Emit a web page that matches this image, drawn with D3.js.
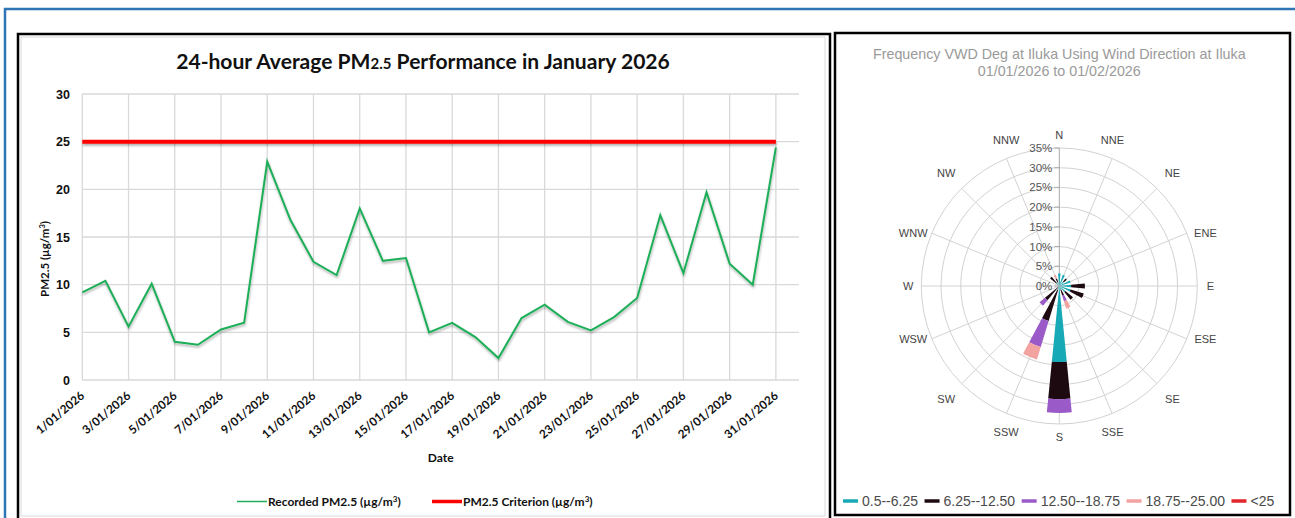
<!DOCTYPE html>
<html>
<head>
<meta charset="utf-8">
<script src="https://cdn.jsdelivr.net/npm/d3@7"></script>
<style>
  body { margin: 0; background: #fff; }
  svg { display: block; }
</style>
</head>
<body>
<div class="sh"></div>
<script>
// PM2.5 daily values, January 2026
var days = [1, 2, 3, 4, 5, 6, 7, 8, 9, 10, 11, 12, 13, 14, 15, 16,
    17, 18, 19, 20, 21, 22, 23, 24, 25, 26, 27, 28, 29, 30, 31];
var pm25 = [9.2, 10.4, 5.6, 10.1, 4.0, 3.7, 5.3, 6.0, 22.9, 16.8, 12.4, 11.0, 18.0, 12.5, 12.8, 5.0,
    6.0, 4.5, 2.3, 6.5, 7.9, 6.1, 5.2, 6.6, 8.6, 17.3, 11.2, 19.7, 12.2, 10.0, 24.4];
var criterion = 25;
var yTicks = [0, 5, 10, 15, 20, 25, 30];
var xTickDays = [1, 3, 5, 7, 9, 11, 13, 15, 17, 19, 21, 23, 25, 27, 29, 31];

// wind rose: frequency (%) per direction, per speed class
var directions = ["N", "NNE", "NE", "ENE", "E", "ESE", "SE", "SSE",
    "S", "SSW", "SW", "WSW", "W", "WNW", "NW", "NNW"];
var speedClasses = ["0.5--6.25", "6.25--12.50", "12.50--18.75", "18.75--25.00", "<25"];
var cls1 = [3.2, 3.0, 1.5, 3.0, 3.0, 3.0, 2.0, 1.0, 19.3, 1.0, 0.5, 0.3, 0.3, 0.3, 1.0, 1.0];
var cls2 = [0, 0, 1.0, 0, 3.5, 3.5, 2.5, 1.5, 9.4, 8.3, 4.2, 0, 0, 0, 2.0, 1.0];
var cls3 = [0, 0, 0, 0, 0, 0, 0, 1.5, 3.5, 6.9, 1.8, 0, 0, 0, 0, 0];
var cls4 = [0, 0, 0, 0, 0, 0, 0, 2.0, 0, 3.3, 0, 0, 0, 0, 0, 1.0];
var cls5 = [0, 0, 0, 0, 0, 0, 0, 0, 0, 0, 0, 0, 0, 0, 0, 0];
var rTicks = [0, 5, 10, 15, 20, 25, 30, 35];

var roseColors = ["#17a9b6", "#1c0a10", "#9a5ac8", "#f2a3a0", "#e3262b"];

var W = 1295, H = 518;
var svg = d3.select(".sh").append("svg")
    .attr("width", W)
    .attr("height", H);

var defs = svg.append("defs");
defs.append("filter").attr("id", "shadow")
    .attr("filterUnits", "userSpaceOnUse")
    .attr("x", 0).attr("y", 0).attr("width", W).attr("height", H)
    .append("feDropShadow")
    .attr("dx", 0.5).attr("dy", 2).attr("stdDeviation", 1.2)
    .attr("flood-color", "#000").attr("flood-opacity", 0.3);

// outer blue frame
svg.append("path")
    .attr("d", "M5,520 L5,9 L1300,9")
    .attr("fill", "none")
    .attr("stroke", "#2e75b6")
    .attr("stroke-width", 2.5);

// chart boxes
svg.append("rect").attr("x", 21).attr("y", 37).attr("width", 804).attr("height", 479)
    .attr("fill", "none").attr("stroke", "#d9d9d9").attr("stroke-width", 1);
svg.append("rect").attr("x", 18).attr("y", 34).attr("width", 812).attr("height", 500)
    .attr("fill", "none").attr("stroke", "#000").attr("stroke-width", 2.5);
svg.append("rect").attr("x", 835).attr("y", 33).attr("width", 455).attr("height", 482)
    .attr("fill", "none").attr("stroke", "#000").attr("stroke-width", 2.5);

// ---------- line chart ----------
var plot = { left: 82.3, right: 799, top: 94, bottom: 380 };
var x = d3.scaleLinear().domain([1, 32]).range([plot.left, plot.right]);
var y = d3.scaleLinear().domain([0, 30]).range([plot.bottom, plot.top]);

var lc = svg.append("g");
var font = "'Liberation Sans', Arial, sans-serif";
var font2 = "Lato, 'Open Sans', sans-serif";

lc.append("g").selectAll("line")
    .data(yTicks)
    .enter().append("line")
    .attr("x1", plot.left).attr("x2", plot.right)
    .attr("y1", function (d) { return y(d); })
    .attr("y2", function (d) { return y(d); })
    .attr("stroke", "#d9d9d9").attr("stroke-width", 1.3);

lc.append("g").selectAll("line")
    .data(xTickDays)
    .enter().append("line")
    .attr("x1", function (d) { return x(d); })
    .attr("x2", function (d) { return x(d); })
    .attr("y1", plot.top).attr("y2", plot.bottom)
    .attr("stroke", "#d9d9d9").attr("stroke-width", 1.3);

lc.append("g").selectAll("text")
    .data(yTicks)
    .enter().append("text")
    .attr("x", 70)
    .attr("y", function (d) { return y(d) + 4.5; })
    .attr("text-anchor", "end")
    .attr("font-family", font)
    .attr("font-weight", "bold")
    .attr("font-size", 12.5)
    .attr("fill", "#111")
    .text(function (d) { return d; });

lc.append("g").selectAll("text")
    .data(xTickDays)
    .enter().append("text")
    .attr("transform", function (d) { return "translate(" + (x(d) + 3) + ",397) rotate(-40)"; })
    .attr("text-anchor", "end")
    .attr("font-family", font2)
    .attr("font-weight", "bold")
    .attr("font-size", 11.8)
    .attr("fill", "#111")
    .text(function (d) { return d + "/01/2026"; });

// criterion line
lc.append("line")
    .attr("x1", x(days[0])).attr("x2", x(days[days.length - 1]))
    .attr("y1", y(criterion)).attr("y2", y(criterion))
    .attr("stroke", "#ff0000").attr("stroke-width", 4)
    .attr("filter", "url(#shadow)");

var line = d3.line()
    .x(function (d, i) { return x(days[i]); })
    .y(function (d) { return y(d); });

lc.append("path")
    .datum(pm25)
    .attr("d", line)
    .attr("fill", "none")
    .attr("stroke", "#1fae58")
    .attr("stroke-width", 2)
    .attr("stroke-linejoin", "miter")
    .attr("filter", "url(#shadow)");

// title
var title = lc.append("text")
    .attr("x", 423).attr("y", 68.5)
    .attr("text-anchor", "middle")
    .attr("font-family", font2)
    .attr("font-weight", "bold")
    .attr("font-size", 21)
    .attr("fill", "#111");
title.append("tspan").text("24-hour Average PM");
title.append("tspan").attr("font-size", 15).text("2.5");
title.append("tspan").text(" Performance in January 2026");
// fit title to the width seen in the reference
var tl = title.node().getComputedTextLength();
if (tl > 0) {
    var k = 494 / tl;
    title.attr("font-size", 21 * k);
    title.select("tspan:nth-child(2)").attr("font-size", 15 * k);
}

// axis titles
var yt = lc.append("text")
    .attr("transform", "translate(49,259) rotate(-90)")
    .attr("text-anchor", "middle")
    .attr("font-family", font2)
    .attr("font-weight", "bold")
    .attr("font-size", 11.5)
    .attr("fill", "#111");
yt.append("tspan").text("PM2.5 (µg/m");
yt.append("tspan").attr("font-size", 7.5).attr("dy", -4).text("3");
yt.append("tspan").attr("dy", 4).text(")");

lc.append("text")
    .attr("x", (plot.left + plot.right) / 2).attr("y", 462)
    .attr("text-anchor", "middle")
    .attr("font-family", font2)
    .attr("font-weight", "bold")
    .attr("font-size", 12)
    .attr("fill", "#111")
    .text("Date");

// legend
var legendItems = [
    { label: "Recorded PM2.5 (µg/m", color: "#1fae58", w: 1.5, x: 237 },
    { label: "PM2.5 Criterion (µg/m", color: "#ff0000", w: 3.5, x: 432 }
];
var lg = lc.append("g").selectAll("g")
    .data(legendItems)
    .enter().append("g");
lg.append("line")
    .attr("x1", function (d) { return d.x; })
    .attr("x2", function (d) { return d.x + 30; })
    .attr("y1", 501.5).attr("y2", 501.5)
    .attr("stroke", function (d) { return d.color; })
    .attr("stroke-width", function (d) { return d.w; });
var lt = lg.append("text")
    .attr("x", function (d) { return d.x + 31; })
    .attr("y", 505.5)
    .attr("font-family", font2)
    .attr("font-weight", "bold")
    .attr("font-size", 12)
    .attr("fill", "#111");
lt.append("tspan").text(function (d) { return d.label; });
lt.append("tspan").attr("font-size", 8).attr("dy", -4).text("3");
lt.append("tspan").attr("dy", 4).text(")");

// ---------- wind rose ----------
var cx = 1059.3, cy = 286;
var r = d3.scaleLinear().domain([0, 35]).range([0, 138]);
var angle = d3.scaleLinear().domain([0, 16]).range([0, 2 * Math.PI]);
var rose = svg.append("g").attr("transform", "translate(" + cx + "," + cy + ")");

rose.append("g").selectAll("circle")
    .data(rTicks.slice(1))
    .enter().append("circle")
    .attr("r", function (d) { return r(d); })
    .attr("fill", "none")
    .attr("stroke", "#d2d2d2")
    .attr("stroke-width", 1);

rose.append("g").selectAll("line")
    .data(directions)
    .enter().append("line")
    .attr("x1", 0).attr("y1", 0)
    .attr("x2", function (d, i) { return Math.sin(angle(i)) * r(35); })
    .attr("y2", function (d, i) { return -Math.cos(angle(i)) * r(35); })
    .attr("stroke", function (d, i) { return i === 0 ? "#a8a8a8" : "#d2d2d2"; })
    .attr("stroke-width", 1);

// petals
var classes = [cls1, cls2, cls3, cls4, cls5];
var segs = [];
directions.forEach(function (dir, i) {
    var base = 0;
    classes.forEach(function (c, j) {
        if (c[i] > 0) {
            segs.push({ i: i, j: j, r0: base, r1: base + c[i] });
            base += c[i];
        }
    });
});
var half = Math.PI / 16 * 0.5;
var arc = d3.arc()
    .innerRadius(function (d) { return r(d.r0); })
    .outerRadius(function (d) { return r(d.r1); })
    .startAngle(function (d) { return angle(d.i) - half; })
    .endAngle(function (d) { return angle(d.i) + half; });
rose.append("g").selectAll("path")
    .data(segs)
    .enter().append("path")
    .attr("d", arc)
    .attr("fill", function (d) { return roseColors[d.j]; });

// radial labels
rose.append("g").selectAll("line")
    .data(rTicks)
    .enter().append("line")
    .attr("x1", -5).attr("x2", 0)
    .attr("y1", function (d) { return -r(d); })
    .attr("y2", function (d) { return -r(d); })
    .attr("stroke", "#a8a8a8");
rose.append("g").selectAll("text")
    .data(rTicks)
    .enter().append("text")
    .attr("x", -7)
    .attr("y", function (d) { return -r(d) + 4; })
    .attr("text-anchor", "end")
    .attr("font-family", font)
    .attr("font-size", 11.5)
    .attr("fill", "#555")
    .text(function (d) { return d + "%"; });

// direction labels sit a bit further out on the diagonals
function labelPos(i) {
    var a = angle(i);
    var a2 = a - (2.5 * Math.PI / 180) * Math.sin(4 * a);
    var s2 = Math.sin(2 * a);
    var rr = 151 + 9 * s2 * s2;
    return [Math.sin(a2) * rr, -Math.cos(a2) * rr];
}
rose.append("g").selectAll("text")
    .data(directions)
    .enter().append("text")
    .attr("x", function (d, i) { return labelPos(i)[0]; })
    .attr("y", function (d, i) { return labelPos(i)[1] + 4; })
    .attr("text-anchor", "middle")
    .attr("font-family", font)
    .attr("font-size", 11)
    .attr("fill", "#444")
    .text(function (d) { return d; });

// rose title
svg.append("text")
    .attr("x", cx).attr("y", 59)
    .attr("text-anchor", "middle")
    .attr("font-family", font)
    .attr("font-size", 14.3)
    .attr("fill", "#9a9a9a")
    .text("Frequency VWD Deg at Iluka Using Wind Direction at Iluka");
svg.append("text")
    .attr("x", cx).attr("y", 75.5)
    .attr("text-anchor", "middle")
    .attr("font-family", font)
    .attr("font-size", 14.3)
    .attr("fill", "#9a9a9a")
    .text("01/01/2026 to 01/02/2026");

// rose legend
var lx = 843;
speedClasses.forEach(function (s, j) {
    svg.append("line")
        .attr("x1", lx).attr("x2", lx + 15)
        .attr("y1", 501).attr("y2", 501)
        .attr("stroke", roseColors[j]).attr("stroke-width", 3.5);
    var t = svg.append("text")
        .attr("x", lx + 19).attr("y", 506)
        .attr("font-family", font)
        .attr("font-size", 14)
        .attr("fill", "#4a4a4a")
        .text(s);
    lx += 19 + t.node().getComputedTextLength() + 6.5;
});
</script>
</body>
</html>
